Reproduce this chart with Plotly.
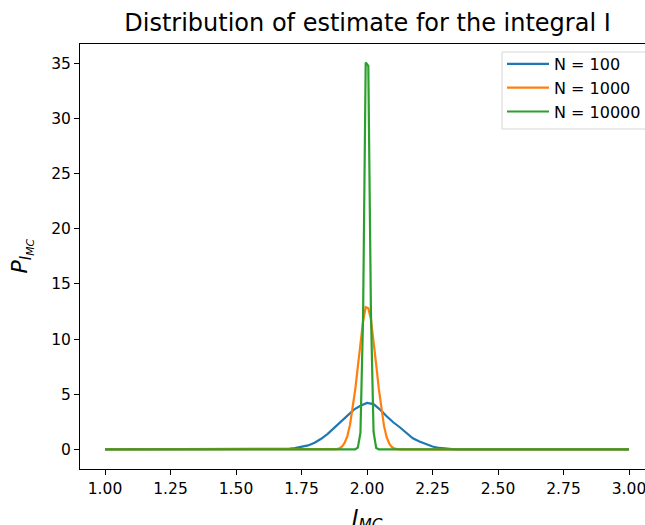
import plotly.graph_objects as go

# ---- data ----
x_n100 = [1.00, 1.65, 1.70, 1.725, 1.75, 1.775, 1.80, 1.825, 1.85, 1.875, 1.90, 1.925, 1.95, 1.975,
          2.00, 2.025, 2.05, 2.075, 2.10, 2.125, 2.15, 2.175, 2.20, 2.225, 2.25, 2.275, 2.30, 2.325, 2.35, 3.00]
y_n100 = [0.0, 0.0, 0.04, 0.1, 0.2, 0.35, 0.6, 0.95, 1.4, 1.95, 2.55, 3.1, 3.6, 3.95,
          4.2, 4.1, 3.6, 3.0, 2.45, 2.0, 1.5, 1.0, 0.7, 0.45, 0.25, 0.12, 0.05, 0.02, 0.0, 0.0]

x_n1000 = [1.00, 1.875, 1.885, 1.895, 1.905, 1.915, 1.925, 1.935, 1.945, 1.955, 1.965, 1.975, 1.985,
           1.995, 2.005, 2.015, 2.025, 2.035, 2.045, 2.055, 2.065, 2.075, 2.085, 2.095, 2.105, 2.115, 2.125, 3.00]
y_n1000 = [0.0, 0.0, 0.02, 0.08, 0.25, 0.6, 1.2, 2.2, 3.6, 5.4, 7.5, 9.7, 11.6,
           12.9, 12.8, 11.8, 9.9, 7.7, 5.5, 3.6, 2.1, 1.1, 0.5, 0.2, 0.06, 0.01, 0.0, 0.0]

x_n10000 = [1.00, 1.955, 1.965, 1.975, 1.985, 1.995, 2.005, 2.015, 2.025, 2.035, 2.045, 3.00]
y_n10000 = [0.0, 0.0, 0.15, 1.5, 12.0, 35.1, 34.8, 12.5, 1.6, 0.12, 0.0, 0.0]

series_names = ["N = 100", "N = 1000", "N = 10000"]
series_colors = ["#1f77b4", "#ff7f0e", "#2ca02c"]

x_ticks = [1.00, 1.25, 1.50, 1.75, 2.00, 2.25, 2.50, 2.75, 3.00]
y_ticks = [0, 5, 10, 15, 20, 25, 30, 35]

FONT = "DejaVu Sans"

fig = go.Figure()
for i, (xs, ys, name, col) in enumerate(zip([x_n100, x_n1000, x_n10000],
                                            [y_n100, y_n1000, y_n10000],
                                            series_names, series_colors)):
    fig.add_trace(go.Scatter(x=xs, y=ys, mode="lines", name=name, legendgroup=f"g{i}",
                             line=dict(color=col, width=2.2)))

# layout in page pixels (body margin removed via post_script)
W, H = 655, 525
L, T, R = 80, 44, 0
PLOT_BOTTOM = 469
B = H - PLOT_BOTTOM
PW = W - L - R
PH = H - T - B


def px_x(p):
    return (p - L) / PW


def px_y(p):
    return 1 - (p - T) / PH


fig.update_layout(
    width=W, height=H,
    margin=dict(l=L, r=R, t=T, b=B, autoexpand=False),
    paper_bgcolor="white", plot_bgcolor="white",
    font=dict(family=FONT, size=15, color="black"),
    title=dict(text="Distribution of estimate for the integral I",
               font=dict(family=FONT, size=24, color="black"),
               x=0.5, xref="paper", xanchor="center",
               y=1 - 23 / H, yref="container", yanchor="middle"),
    showlegend=True,
    legend=dict(x=px_x(502), xanchor="left", y=px_y(47), yanchor="top",
                bgcolor="rgba(0,0,0,0)", borderwidth=0,
                font=dict(family=FONT, size=16, color="black"),
                itemwidth=42, tracegroupgap=0),
    xaxis=dict(range=[1 - 25 / 262, 1 - 25 / 262 + PW / 262],
               tickvals=x_ticks, ticktext=[f"{v:.2f}" for v in x_ticks],
               ticks="outside", ticklen=5, tickwidth=1, tickcolor="black",
               showline=True, linecolor="black", linewidth=1, mirror=True,
               showgrid=False, zeroline=False,
               tickfont=dict(family=FONT, size=15.5, color="black")),
    yaxis=dict(range=[-1.79, 36.78],
               tickvals=y_ticks, ticktext=[str(v) for v in y_ticks],
               ticks="outside", ticklen=5, tickwidth=1, tickcolor="black",
               showline=True, linecolor="black", linewidth=1, mirror=True,
               showgrid=False, zeroline=False,
               tickfont=dict(family=FONT, size=15.5, color="black")),
)

# legend frame
fig.add_shape(type="rect", xref="paper", yref="paper",
              x0=px_x(502), x1=px_x(662), y0=px_y(129), y1=px_y(52),
              line=dict(color="#d6d6d6", width=1), fillcolor="white", layer="below")

# axis labels
fig.add_annotation(text="<i>I</i><sub><i>MC</i></sub>", xref="paper", yref="paper",
                   x=0.5, y=0, yshift=-34, xanchor="center", yanchor="top",
                   showarrow=False, font=dict(family=FONT, size=22, color="black"))
fig.add_annotation(text="<i>P</i><sub><i>I</i><sub><i>MC</i></sub></sub>", xref="paper", yref="paper",
                   x=0, xshift=-(L - 22), y=0.5, xanchor="center", yanchor="middle", textangle=-90,
                   showarrow=False, font=dict(family=FONT, size=22, color="black"))

fig.write_html("out.html",
               config={"displayModeBar": False},
               post_script="document.body.style.margin='0';document.body.style.overflow='hidden';"
                           "document.documentElement.style.overflow='hidden';")
